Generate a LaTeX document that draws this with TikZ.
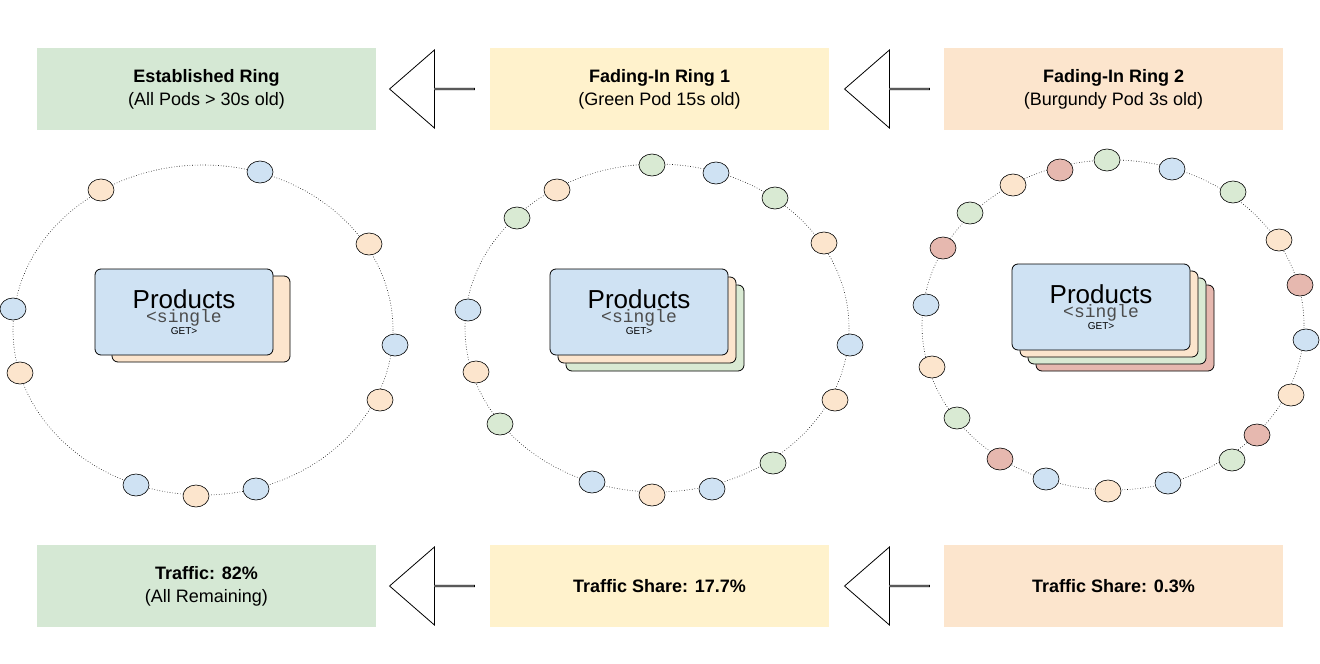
\documentclass[tikz,border=0pt]{standalone}
\usepackage{fontspec}
\setmainfont{Liberation Sans}
\setmonofont{Liberation Mono}
\usetikzlibrary{shapes.arrows,shapes.geometric}
\definecolor{cgreen}{HTML}{D5E8D4}
\definecolor{cyellow}{HTML}{FFF2CC}
\definecolor{corange}{HTML}{FCE5CD}
\definecolor{cblue}{HTML}{CFE2F3}
\definecolor{cburg}{HTML}{E6B8AF}
\definecolor{cpgreen}{HTML}{D9EAD3}
\tikzset{
  label box/.style={minimum width=339pt, minimum height=82pt, align=center, inner sep=0pt, font=\fontsize{18}{23}\selectfont},
  pod/.style={draw, line width=.6pt, ellipse, minimum width=26pt, minimum height=22pt, inner sep=0pt},
  card/.style={draw, line width=.8pt, rounded corners=6pt, minimum width=178pt, minimum height=86pt, inner sep=0pt, align=center},
  big arrow/.style={draw, line width=.8pt, single arrow, shape border rotate=180, minimum height=85pt, minimum width=78pt, single arrow head extend=20pt, single arrow tip angle=82, inner sep=0pt},
  ring/.style={dotted, line width=.6pt}
}
\newcommand{\prodcardtext}{\fontsize{26}{28}\selectfont Products\\\ttfamily\fontsize{18}{22}\selectfont\color{black!70}<single\\GET>}
\begin{document}
\begin{tikzpicture}[x=1pt,y=-1pt]
  \useasboundingbox (0,0) rectangle (1320,664);
  % top labels
  \node [label box, fill=cgreen] (estab) at (206.5,89) {\textbf{Established Ring}\\(All Pods > 30s old)};
  \node [label box, fill=cyellow] (fade1) at (659.5,89) {\textbf{Fading-In Ring 1}\\(Green Pod 15s old)};
  \node [label box, fill=corange] (fade2) at (1113.5,89) {\textbf{Fading-In Ring 2}\\(Burgundy Pod 3s old)};
  \node [big arrow] (arrA) at (432.5,89) {};
  \node [big arrow] (arrB) at (887.5,89) {};
  % bottom labels
  \node [label box, fill=cgreen] (trafA) at (206.5,586) {\textbf{Traffic: 82\%}\\(All Remaining)};
  \node [label box, fill=cyellow] (trafB) at (659.5,586) {\textbf{Traffic Share: 17.7\%}};
  \node [label box, fill=corange] (trafC) at (1113.5,586) {\textbf{Traffic Share: 0.3\%}};
  \node [big arrow] (arrC) at (432.5,586) {};
  \node [big arrow] (arrD) at (887.5,586) {};
  % rings
  \draw [ring] (203,330) ellipse [x radius=190, y radius=165];
  \draw [ring] (657,328) ellipse [x radius=192, y radius=164];
  \draw [ring] (1113,325) ellipse [x radius=191, y radius=165];
  % ring 1 pods
  \node [pod, fill=cblue] (pa1) at (260,172) {};
  \node [pod, fill=cblue] (pa2) at (13,309) {};
  \node [pod, fill=cblue] (pa3) at (395,345) {};
  \node [pod, fill=cblue] (pa4) at (136,485) {};
  \node [pod, fill=cblue] (pa5) at (256,489) {};
  \node [pod, fill=corange] (pa6) at (101,190) {};
  \node [pod, fill=corange] (pa7) at (369,244) {};
  \node [pod, fill=corange] (pa8) at (20,373) {};
  \node [pod, fill=corange] (pa9) at (380,400) {};
  \node [pod, fill=corange] (pa10) at (196,496) {};
  % ring 2 pods
  \node [pod, fill=cpgreen] (pb1) at (652,165) {};
  \node [pod, fill=cpgreen] (pb2) at (775,198) {};
  \node [pod, fill=cpgreen] (pb3) at (517,218) {};
  \node [pod, fill=cpgreen] (pb4) at (500,424) {};
  \node [pod, fill=cpgreen] (pb5) at (773,463) {};
  \node [pod, fill=cblue] (pb6) at (716,173) {};
  \node [pod, fill=cblue] (pb7) at (468,310) {};
  \node [pod, fill=cblue] (pb8) at (850,345) {};
  \node [pod, fill=cblue] (pb9) at (592,482) {};
  \node [pod, fill=cblue] (pb10) at (712,489) {};
  \node [pod, fill=corange] (pb11) at (557,190) {};
  \node [pod, fill=corange] (pb12) at (824,243) {};
  \node [pod, fill=corange] (pb13) at (476,372) {};
  \node [pod, fill=corange] (pb14) at (835,400) {};
  \node [pod, fill=corange] (pb15) at (652,495) {};
  % ring 3 pods
  \node [pod, fill=cburg] (pc1) at (1060,170) {};
  \node [pod, fill=cburg] (pc2) at (943,248) {};
  \node [pod, fill=cburg] (pc3) at (1300,285) {};
  \node [pod, fill=cburg] (pc4) at (1257,435) {};
  \node [pod, fill=cburg] (pc5) at (1000,459) {};
  \node [pod, fill=cpgreen] (pc6) at (1107,160) {};
  \node [pod, fill=cpgreen] (pc7) at (1233,192) {};
  \node [pod, fill=cpgreen] (pc8) at (970,213) {};
  \node [pod, fill=cpgreen] (pc9) at (957,418) {};
  \node [pod, fill=cpgreen] (pc10) at (1232,460) {};
  \node [pod, fill=cblue] (pc11) at (1172,169) {};
  \node [pod, fill=cblue] (pc12) at (926,305) {};
  \node [pod, fill=cblue] (pc13) at (1306,340) {};
  \node [pod, fill=cblue] (pc14) at (1046,479) {};
  \node [pod, fill=cblue] (pc15) at (1168,483) {};
  \node [pod, fill=corange] (pc16) at (1013,185) {};
  \node [pod, fill=corange] (pc17) at (1279,240) {};
  \node [pod, fill=corange] (pc18) at (932,367) {};
  \node [pod, fill=corange] (pc19) at (1291,395) {};
  \node [pod, fill=corange] (pc20) at (1108,491) {};
  % product cards
  \node [card, fill=corange] (cardA2) at (201,319) {};
  \node [card, fill=cblue] (cardA1) at (184,312) {\prodcardtext};
  \node [card, fill=cpgreen] (cardB3) at (655,328) {};
  \node [card, fill=corange] (cardB2) at (647,320) {};
  \node [card, fill=cblue] (cardB1) at (639,312) {\prodcardtext};
  \node [card, fill=cburg] (cardC4) at (1125,328) {};
  \node [card, fill=cpgreen] (cardC3) at (1117,321) {};
  \node [card, fill=corange] (cardC2) at (1109,314) {};
  \node [card, fill=cblue] (cardC1) at (1101,307) {\prodcardtext};
\end{tikzpicture}
\end{document}
